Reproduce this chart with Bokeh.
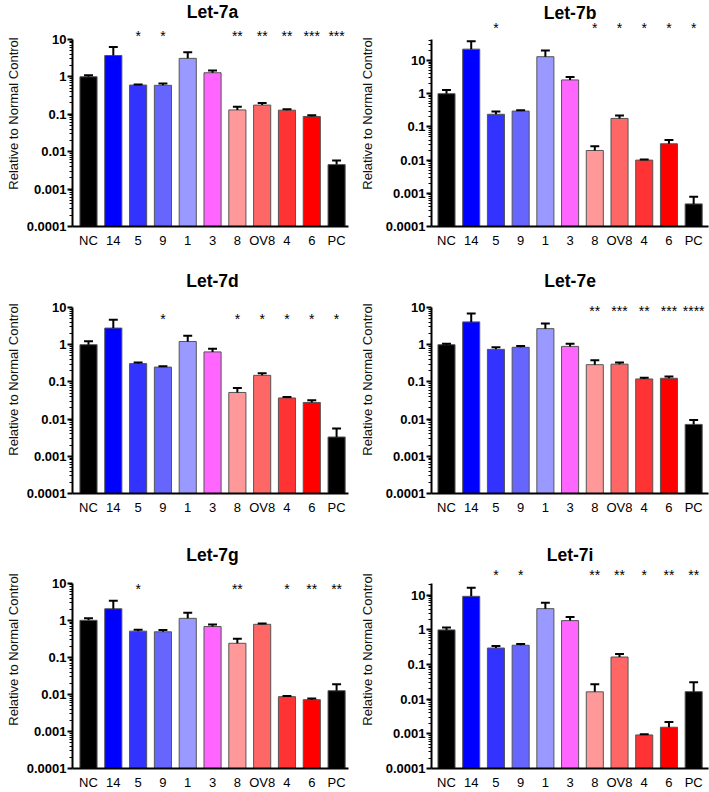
import math
from bokeh.plotting import figure
from bokeh.layouts import gridplot
from bokeh.models import FixedTicker, CustomJSTickFormatter, Range1d, ColumnDataSource
from bokeh.core.properties import value
from bokeh.embed import file_html
from bokeh.resources import INLINE

# ---------------- data ----------------
categories = ["NC", "14", "5", "9", "1", "3", "8", "OV8", "4", "6", "PC"]
bar_colors = ["#000000", "#0000FF", "#3333FF", "#6666FF", "#9999FF", "#FF66FF",
              "#FF9999", "#FF6666", "#FF3333", "#FF0000", "#000000"]

let7a_mean = [1.0, 3.7, 0.60, 0.59, 3.1, 1.28, 0.13, 0.175, 0.128, 0.087, 0.0045]
let7a_sem = [0.1, 2.5, 0.02, 0.07, 1.4, 0.2, 0.028, 0.025, 0.008, 0.007, 0.0013]
let7a_sig = ["", "", "*", "*", "", "", "**", "**", "**", "***", "***"]

let7b_mean = [1.0, 22, 0.24, 0.30, 13, 2.6, 0.0195, 0.18, 0.010, 0.031, 0.00048]
let7b_sem = [0.3, 16, 0.05, 0.02, 7, 0.6, 0.0065, 0.04, 0.0005, 0.009, 0.00031]
let7b_sig = ["", "", "*", "", "", "", "*", "*", "*", "*", "*"]

let7d_mean = [1.0, 2.8, 0.31, 0.25, 1.22, 0.64, 0.052, 0.15, 0.037, 0.028, 0.0033]
let7d_sem = [0.23, 1.9, 0.02, 0.015, 0.53, 0.14, 0.017, 0.02, 0.002, 0.004, 0.0023]
let7d_sig = ["", "", "", "*", "", "", "*", "*", "*", "*", "*"]

let7e_mean = [1.0, 4.1, 0.75, 0.85, 2.7, 0.9, 0.29, 0.30, 0.12, 0.125, 0.0072]
let7e_sem = [0.06, 2.8, 0.10, 0.07, 1.0, 0.16, 0.09, 0.03, 0.01, 0.015, 0.0023]
let7e_sig = ["", "", "", "", "", "", "**", "***", "**", "***", "****"]

let7g_mean = [1.0, 2.05, 0.51, 0.49, 1.13, 0.68, 0.24, 0.78, 0.0087, 0.0072, 0.0126]
let7g_sem = [0.13, 1.35, 0.05, 0.06, 0.47, 0.09, 0.08, 0.04, 0.0003, 0.0006, 0.0061]
let7g_sig = ["", "", "*", "", "", "", "**", "", "*", "**", "**"]

let7i_mean = [1.0, 9.3, 0.30, 0.36, 4.1, 1.85, 0.0163, 0.165, 0.00093, 0.00155, 0.0165]
let7i_sem = [0.17, 7.2, 0.04, 0.03, 2.0, 0.5, 0.0107, 0.035, 0.00005, 0.00065, 0.0145]
let7i_sig = ["", "", "*", "*", "", "", "**", "**", "*", "**", "**"]

y_ticks = [0.0001, 0.001, 0.01, 0.1, 1, 10]
y_label = "Relative to Normal Control"

FONT = "Liberation Sans"


def make_panel(title, mean, sem, sig, axis_top, width, height, bottom_px, ppd,
               title_px, star_px, left_border, right_border, xstart, xend, label_standoff):
    ymin = 1e-4
    y_end = 10 ** (math.log10(ymin) + bottom_px / ppd)

    def px2val(px):
        return 10 ** (math.log10(ymin) + (bottom_px - px) / ppd)

    p = figure(width=width, height=height, y_axis_type="log",
               x_range=Range1d(xstart, xend), y_range=Range1d(ymin, y_end),
               output_backend="svg", toolbar_location=None, title=None,
               min_border_top=0, min_border_left=left_border,
               min_border_right=right_border,
               min_border_bottom=height - bottom_px)
    p.outline_line_color = None
    p.xgrid.visible = False
    p.ygrid.visible = False
    p.background_fill_color = "white"
    p.border_fill_color = "white"

    xs = list(range(len(categories)))
    tops = [m + s for m, s in zip(mean, sem)]
    src = ColumnDataSource(dict(x=xs, top=mean, upper=tops, color=bar_colors,
                                cl=[x - 0.18 for x in xs], cr=[x + 0.18 for x in xs]))
    p.vbar(x="x", top="top", bottom=ymin, width=0.69, fill_color="color",
           line_color="#555555", line_width=1, source=src)
    p.segment(x0="x", y0="top", x1="x", y1="upper", line_color="black",
              line_width=2, source=src)
    p.segment(x0="cl", y0="upper", x1="cr", y1="upper", line_color="black",
              line_width=2, source=src)

    sy = px2val(star_px)
    p.text(x=xs, y=[sy] * len(xs), text=sig, text_align="center",
           text_baseline="middle", text_font=value(FONT), text_font_size="14px",
           text_color="black")
    p.text(x=[5], y=[px2val(title_px)], text=[title], text_align="center",
           text_baseline="middle", text_font=value(FONT), text_font_size="17.5px",
           text_font_style="bold", text_color="black")

    xa = p.xaxis[0]
    xa.ticker = FixedTicker(ticks=xs)
    xa.major_label_overrides = {i: c for i, c in enumerate(categories)}
    xa.major_tick_out = 0
    xa.major_tick_in = 0
    xa.minor_tick_out = 0
    xa.minor_tick_in = 0
    xa.axis_line_width = 2
    xa.axis_line_color = "black"
    xa.major_label_text_font = FONT
    xa.major_label_text_font_size = "13px"
    xa.major_label_text_color = "black"
    xa.major_label_standoff = 6

    ya = p.yaxis[0]
    minors = []
    for d in range(-4, 2):
        for k in range(2, 10):
            v = k * 10 ** d
            if v <= axis_top:
                minors.append(v)
    ya.ticker = FixedTicker(ticks=y_ticks, minor_ticks=minors)
    ya.formatter = CustomJSTickFormatter(
        code="return tick >= 1 ? tick.toFixed(0) : String(parseFloat(tick.toPrecision(1)));")
    ya.bounds = (ymin, axis_top)
    ya.axis_line_width = 2
    ya.axis_line_color = "black"
    ya.major_tick_out = 5
    ya.major_tick_in = 0
    ya.major_tick_line_width = 2
    ya.minor_tick_out = 3
    ya.minor_tick_in = 0
    ya.minor_tick_line_width = 1
    ya.major_label_text_font = FONT
    ya.major_label_text_font_size = "13px"
    ya.major_label_text_font_style = "bold"
    ya.major_label_text_color = "black"
    ya.major_label_standoff = 1
    ya.axis_label = y_label
    ya.axis_label_text_font = FONT
    ya.axis_label_text_font_size = "13px"
    ya.axis_label_text_font_style = "normal"
    ya.axis_label_text_color = "#111111"
    ya.axis_label_standoff = label_standoff
    return p


# left column: width 355, right column: width 354
p1 = make_panel("Let-7a", let7a_mean, let7a_sem, let7a_sig, 10, 355, 265,
                227, 37.6, 12, 36, 72, 7, -0.645, 10.48, 3)
p2 = make_panel("Let-7b", let7b_mean, let7b_sem, let7b_sig, 42, 354, 265,
                226, 33.2, 12, 27, 76, 1, -0.607, 10.6, 8)
p3 = make_panel("Let-7d", let7d_mean, let7d_sem, let7d_sig, 10, 355, 265,
                228, 37.2, 15, 53, 72, 7, -0.645, 10.48, 3)
p4 = make_panel("Let-7e", let7e_mean, let7e_sem, let7e_sig, 10, 354, 265,
                228, 37.2, 15, 45, 76, 1, -0.607, 10.6, 8)
p5 = make_panel("Let-7g", let7g_mean, let7g_sem, let7g_sig, 10, 355, 262,
                239, 37.2, 25, 59, 72, 7, -0.645, 10.48, 3)
p6 = make_panel("Let-7i", let7i_mean, let7i_sem, let7i_sig, 22, 354, 262,
                239, 34.8, 25, 45, 76, 1, -0.607, 10.6, 8)

grid = gridplot([[p1, p2], [p3, p4], [p5, p6]], toolbar_location=None)

open("out.html", "w").write(file_html(grid, INLINE))
